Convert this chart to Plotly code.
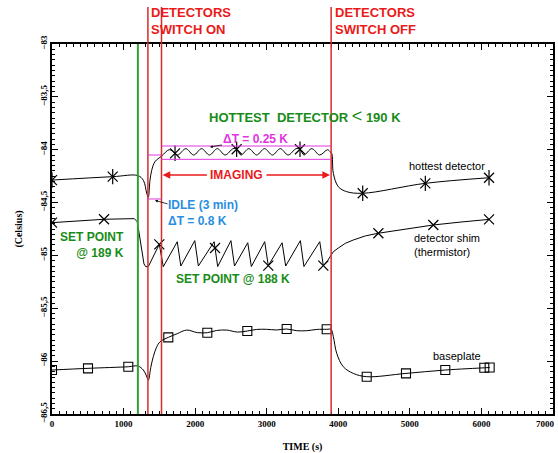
import plotly.graph_objects as go

# ---------------- data ----------------
# hottest detector temperature (Celsius) vs time (s)
hot_t = [0, 848, 1200, 1277, 1323, 1345, 1369, 1393, 1439, 1532,
         1640, 1719, 1760, 1870, 1980, 2090, 2200, 2310, 2420, 2530, 2580,
         2640, 2750, 2860, 2970, 3080, 3190, 3300, 3410, 3465, 3520, 3630,
         3740, 3850, 3884, 3908, 3931, 4000, 4118, 4341, 5216, 6106]
hot_v = [-84.287, -84.255, -84.245, -84.29, -84.41, -84.45, -84.29, -84.195, -84.113, -84.06,
         -84.00, -84.034, -84.05, -83.99, -84.05, -83.99, -84.05, -83.99, -84.05, -83.99, -83.996,
         -84.05, -83.99, -84.05, -83.99, -84.05, -83.99, -84.05, -83.99, -83.996, -84.05, -83.99,
         -84.05, -84.00, -84.019, -84.034, -84.223, -84.35, -84.397, -84.412, -84.318, -84.265]
hot_mark_t = [0, 848, 1719, 2580, 3465, 4341, 5216, 6106]
hot_mark_v = [-84.287, -84.255, -84.034, -83.996, -83.996, -84.412, -84.318, -84.265]

# detector shim (thermistor)
shim_t = [0, 727, 1150, 1190, 1215, 1253, 1285, 1310, 1346, 1499, 1555,
          1750, 1800, 1995, 2045, 2265, 2315, 2500, 2550, 2735, 2785, 2972, 3022,
          3215, 3265, 3470, 3520, 3741, 3791, 3850, 3900, 3931, 4000, 4100, 4210,
          4380, 4560, 4950, 5328, 5700, 6106]
shim_v = [-84.69, -84.658, -84.652, -84.68, -84.78, -84.95, -85.08, -85.107, -85.105, -84.895, -85.107,
          -84.87, -85.10, -84.86, -85.10, -84.87, -85.105, -84.86, -85.10, -84.88, -85.105, -84.87, -85.097,
          -84.88, -85.10, -84.86, -85.105, -84.87, -85.097, -85.05, -85.0, -84.965, -84.93, -84.885, -84.854,
          -84.815, -84.79, -84.75, -84.712, -84.685, -84.659]
shim_mark_t = [0, 727, 1499, 2278, 3022, 3791, 4560, 5328, 6106]
shim_mark_v = [-84.69, -84.658, -84.895, -84.93, -85.097, -85.097, -84.79, -84.712, -84.659]

# baseplate
base_t = [0, 503, 1066, 1200, 1276, 1320, 1346, 1380, 1415, 1460, 1509, 1625,
          1750, 1882, 2030, 2170, 2300, 2441, 2590, 2729, 2860, 3000, 3140, 3279,
          3420, 3559, 3700, 3838, 3900, 3931, 3978, 4070, 4210, 4397, 4946, 5495,
          6040, 6115]
base_v = [-86.084, -86.068, -86.053, -86.046, -86.084, -86.14, -86.179, -86.06, -85.958, -85.87, -85.817, -85.775,
          -85.74, -85.706, -85.73, -85.731, -85.71, -85.706, -85.725, -85.715, -85.70, -85.699, -85.705, -85.696,
          -85.712, -85.712, -85.70, -85.699, -85.70, -85.769, -85.926, -86.053, -86.116, -86.147, -86.116, -86.084,
          -86.063, -86.06]
base_mark_t = [0, 503, 1066, 1625, 2170, 2729, 3279, 3838, 4397, 4946, 5495, 6040, 6115]
base_mark_v = [-86.084, -86.068, -86.053, -85.775, -85.731, -85.715, -85.696, -85.699, -86.147, -86.116, -86.084, -86.063, -86.06]

# events: set point change, detectors on, imaging start, detectors off
event_t = [1200, 1340, 1530, 3900]
# delta-T bands
dT_img = [-83.965, -84.091]
dT_idle = [-84.05, -84.466]

x_range = [0, 7000]
x_ticks = [0, 1000, 2000, 3000, 4000, 5000, 6000, 7000]
x_ticklabels = ['0', '1000', '2000', '3000', '4000', '5000', '6000', '7000']
x_minor = 100
y_range = [-86.5, -83]
y_dtick, y_minor = 0.5, 0.05

# ---------------- styles ----------------
RED_TXT = '#ea1a1a'
RED_LN = '#d92a2a'
GREEN_TXT = '#188c18'
GREEN_LN = '#34a034'
MAGENTA = '#e035e0'
BLUE = '#2a8ee2'
ANN_FONT = 'Liberation Sans'
AX_FONT = 'Liberation Serif'

fig = go.Figure()

def line(t, v, shape='linear'):
    fig.add_trace(go.Scatter(x=t, y=v, mode='lines',
                             line=dict(color='black', width=1, shape=shape, smoothing=1.0),
                             hoverinfo='skip', showlegend=False))

def marks(t, v, symbol, size, width=1.1):
    fig.add_trace(go.Scatter(x=t, y=v, mode='markers',
                             marker=dict(symbol=symbol, size=size, color='black',
                                         line=dict(color='black', width=width)),
                             hoverinfo='skip', showlegend=False))

line(hot_t, hot_v, 'spline')
line(shim_t, shim_v)
line(base_t, base_v, 'spline')
marks(hot_mark_t, hot_mark_v, 'x-thin-open', 10, 1.2)
marks(hot_mark_t, hot_mark_v, 'line-ns-open', 11, 1.2)
marks(shim_mark_t, shim_mark_v, 'x-thin-open', 10, 1.2)
marks(base_mark_t, base_mark_v, 'square-open', 9, 1.1)

shapes = []
# green line (set point change)
shapes.append(dict(type='line', xref='x', yref='paper', x0=event_t[0], x1=event_t[0], y0=0, y1=1,
                   line=dict(color=GREEN_LN, width=2)))
for t in event_t[1:]:
    shapes.append(dict(type='line', xref='x', yref='paper', x0=t, x1=t, y0=0, y1=1.1,
                       line=dict(color=RED_LN, width=1.5)))
# magenta delta-T markers
for v in dT_img:
    shapes.append(dict(type='line', xref='x', yref='y', x0=event_t[2], x1=event_t[3], y0=v, y1=v,
                       line=dict(color=MAGENTA, width=1)))
for v in dT_idle:
    shapes.append(dict(type='line', xref='x', yref='y', x0=event_t[1], x1=event_t[2], y0=v, y1=v,
                       line=dict(color=MAGENTA, width=1)))

def ann(text, x, y, color, size=12, bold=True, xanchor='center', yanchor='middle', align='left',
        xref='x', yref='y', family=ANN_FONT, **kw):
    d = dict(text=text, x=x, y=y, xref=xref, yref=yref, showarrow=False, xanchor=xanchor,
             yanchor=yanchor, align=align, borderpad=0,
             font=dict(family=family, size=size, color=color, weight='bold' if bold else 'normal'))
    d.update(kw)
    return d

NB = '\u00a0'
annotations = [
    ann('DETECTORS<br>SWITCH ON', 1372, 1.108, RED_TXT, 13, xanchor='left', yanchor='top', yref='paper'),
    ann('DETECTORS<br>SWITCH OFF', 3935, 1.108, RED_TXT, 13, xanchor='left', yanchor='top', yref='paper'),
    ann('HOTTEST' + NB + NB + 'DETECTOR ' + '<span style="font-size:18px;font-weight:normal">&lt;</span>'
        + NB + '190 K', 2175, -83.681, GREEN_TXT, 13, xanchor='left'),
    ann('IMAGING', 2581, -84.239, RED_TXT, 12),
    ann('SET POINT<br>@ 189 K', 1020, -84.897, GREEN_TXT, 12, xanchor='right', align='right'),
    ann('SET POINT @ 188 K', 2529, -85.226, GREEN_TXT, 12),
    ann('hottest detector', 5512, -84.151, 'black', 11, bold=False),
    ann('detector shim<br>(thermistor)', 5040, -84.899, 'black', 11, bold=False, xanchor='left'),
    ann('baseplate', 5659, -85.949, 'black', 11, bold=False),
    # last x tick label, kept inside the window (the axis ends at the right edge)
    ann(x_ticklabels[-1], x_ticks[-1], 0, 'black', 9, family=AX_FONT, xanchor='right',
        yanchor='top', yref='paper', xshift=3, yshift=-4),
]
# delta-T 0.25 K with small arrow
annotations.append(dict(text='\u0394T = 0.25 K', x=2208, y=-83.975, xref='x', yref='y',
                        showarrow=True, ax=45, ay=-8, arrowhead=2, arrowsize=0.7, arrowwidth=0.8,
                        arrowcolor='black', borderpad=0,
                        font=dict(family=ANN_FONT, size=12, color=MAGENTA, weight='bold')))
# idle label with small arrow
annotations.append(dict(text='IDLE (3 min)<br>\u0394T = 0.8 K', x=1439, y=-84.48, xref='x', yref='y',
                        showarrow=True, ax=48, ay=13, arrowhead=2, arrowsize=0.7, arrowwidth=0.8,
                        arrowcolor='black', align='left', borderpad=0,
                        font=dict(family=ANN_FONT, size=12, color=BLUE, weight='bold')))
# imaging double arrow
for tip, tail in [(event_t[2] + 15, 2185), (event_t[3] - 15, 2975)]:
    annotations.append(dict(text='', x=tip, y=-84.239, ax=tail, ay=-84.239, xref='x', yref='y',
                            axref='x', ayref='y', showarrow=True, arrowhead=2, arrowsize=1.1,
                            arrowwidth=1.4, arrowcolor=RED_TXT))

tick_font = dict(family=AX_FONT, size=9, color='black', weight='bold')
title_font = dict(family=AX_FONT, size=10, color='black', weight='bold')

fig.update_layout(
    template='none',
    width=558, height=453,
    margin=dict(l=52, r=5, t=44, b=39),
    paper_bgcolor='white', plot_bgcolor='white',
    separators=',.',
    shapes=shapes, annotations=annotations,
    xaxis=dict(range=x_range, tickmode='array', tickvals=x_ticks,
               ticktext=x_ticklabels[:-1] + [''],
               minor=dict(dtick=x_minor, ticklen=3, ticks='inside', tickcolor='black'),
               showline=True, linecolor='black', linewidth=1.5, mirror='allticks',
               ticks='inside', tickcolor='black', ticklen=6, showgrid=False, zeroline=False,
               tickfont=tick_font,
               title=dict(text='TIME (s)', standoff=17, font=title_font)),
    yaxis=dict(range=y_range, tickmode='linear', tick0=-83, dtick=y_dtick,
               minor=dict(dtick=y_minor, ticklen=3, ticks='inside', tickcolor='black'),
               showline=True, linecolor='black', linewidth=1.5, mirror='allticks',
               ticks='inside', tickcolor='black', ticklen=6, showgrid=False, zeroline=False,
               tickangle=-90, tickfont=tick_font,
               title=dict(text='(Celsius)', standoff=14, font=title_font)),
)

fig.write_html('out.html', config={'displayModeBar': False},
               post_script="document.body.style.margin='0px';")
